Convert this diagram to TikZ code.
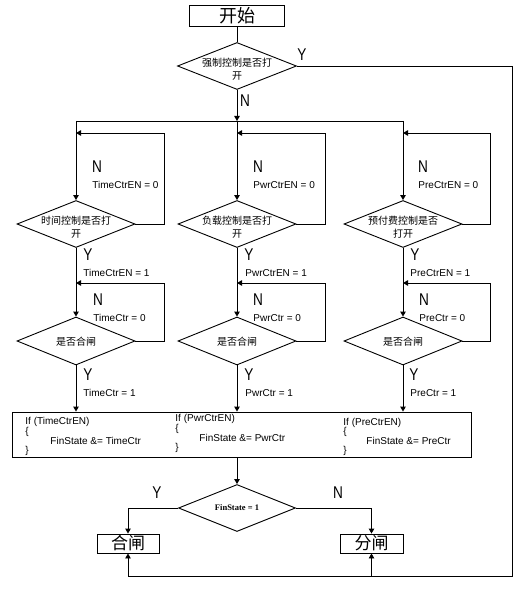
\documentclass[tikz,border=0pt]{standalone}
\usepackage{fontspec}
\setmainfont{Liberation Sans}
\newfontfamily\cjk{Noto Sans CJK SC}
\newfontfamily\serf{Liberation Serif}
\usetikzlibrary{shapes.geometric,arrows.meta}
\begin{document}
\begin{tikzpicture}[x=1pt,y=-1pt,line width=0.9pt,
  dia/.style={draw,diamond,inner sep=0pt,minimum width=118pt,minimum height=47pt},
  box/.style={draw,rectangle,inner sep=0pt},
  arr/.style={-{Triangle[length=5pt,width=5.5pt]}},
  lab/.style={font=\fontsize{10}{10}\selectfont,anchor=west,inner sep=0pt},
  yn/.style={font=\fontsize{17}{17}\selectfont,inner sep=0pt,xscale=0.8},
  cn/.style={font=\cjk\fontsize{10}{12.5}\selectfont,align=center,inner sep=0pt},
  code/.style={font=\fontsize{10}{10}\selectfont,anchor=west,inner sep=0pt}]
\useasboundingbox (0,0) rectangle (521,591);
% start
\node[box,minimum width=95pt,minimum height=21pt,font=\cjk\fontsize{18}{18}\selectfont] (start) at (237,15.5) {开始};
\node[dia,minimum width=119pt] (d1) at (237,66) {};
\node[cn] (d1t) at (237,69) {强制控制是否打\\开};
\node[yn] (y0) at (302,55) {Y};
\node[yn] (n0) at (245,101) {N};
\draw (start.south) -- (d1.north);
% junction
\coordinate (j) at (237,121);
\coordinate (jl) at (76,121);
\coordinate (jr) at (403,121);
\draw[arr] (d1.south) -- (j);
\draw (jl) -- (jr);
% level A diamonds
\node[dia] (dA1) at (76,224) {};
\node[dia] (dA2) at (237,224) {};
\node[dia] (dA3) at (403,224) {};
\node[cn] at (76,227) {时间控制是否打\\开};
\node[cn] at (237,227) {负载控制是否打\\开};
\node[cn] at (403,227) {预付费控制是否\\打开};
\draw[arr] (jl) -- (dA1.north);
\draw[arr] (j) -- (dA2.north);
\draw[arr] (jr) -- (dA3.north);
% loops A
\coordinate (lA1) at (164,133); \coordinate (mA1) at (76,133);
\coordinate (lA2) at (325,133); \coordinate (mA2) at (237,133);
\coordinate (lA3) at (490,133); \coordinate (mA3) at (403,133);
\draw[arr] (dA1.east) -| (lA1) -- (mA1);
\draw[arr] (dA2.east) -| (lA2) -- (mA2);
\draw[arr] (dA3.east) -| (lA3) -- (mA3);
\node[yn] at (97,167) {N};
\node[yn] at (258,167) {N};
\node[yn] at (423,167) {N};
\node[lab] at (92,185) {TimeCtrEN = 0};
\node[lab] at (253,185) {PwrCtrEN = 0};
\node[lab] at (418,185) {PreCtrEN = 0};
% level B diamonds
\node[dia,minimum height=48pt] (dB1) at (76,341) {};
\node[dia,minimum height=48pt] (dB2) at (237,341) {};
\node[dia,minimum height=48pt] (dB3) at (403,341) {};
\node[cn] at (76,342) {是否合闸};
\node[cn] at (237,342) {是否合闸};
\node[cn] at (403,342) {是否合闸};
\draw[arr] (dA1.south) -- (dB1.north);
\draw[arr] (dA2.south) -- (dB2.north);
\draw[arr] (dA3.south) -- (dB3.north);
\node[yn] at (88,255) {Y};
\node[yn] at (249,255) {Y};
\node[yn] at (415,255) {Y};
\node[lab] at (83,273) {TimeCtrEN = 1};
\node[lab] at (245,273) {PwrCtrEN = 1};
\node[lab] at (410,273) {PreCtrEN = 1};
% loops B
\coordinate (lB1) at (164,283); \coordinate (mB1) at (76,283);
\coordinate (lB2) at (325,283); \coordinate (mB2) at (237,283);
\coordinate (lB3) at (490,283); \coordinate (mB3) at (403,283);
\draw[arr] (dB1.east) -| (lB1) -- (mB1);
\draw[arr] (dB2.east) -| (lB2) -- (mB2);
\draw[arr] (dB3.east) -| (lB3) -- (mB3);
\node[yn] at (98,300) {N};
\node[yn] at (258,300) {N};
\node[yn] at (424,300) {N};
\node[lab] at (93,318) {TimeCtr = 0};
\node[lab] at (253,318) {PwrCtr = 0};
\node[lab] at (419,318) {PreCtr = 0};
\node[yn] at (88,375) {Y};
\node[yn] at (249,375) {Y};
\node[yn] at (414,375) {Y};
\node[lab] at (83,393) {TimeCtr = 1};
\node[lab] at (245,393) {PwrCtr = 1};
\node[lab] at (410,393) {PreCtr = 1};
% code box
\node[box,minimum width=459pt,minimum height=45pt] (cb) at (241.5,434.5) {};
\draw[arr] (dB1.south) -- (dB1.south |- cb.north);
\draw[arr] (dB2.south) -- (dB2.south |- cb.north);
\draw[arr] (dB3.south) -- (dB3.south |- cb.north);
\node[code] at (25,422) {If (TimeCtrEN)};
\node[code] at (25,432) {\{};
\node[code] at (50,441) {FinState \&= TimeCtr};
\node[code] at (25,451) {\}};
\node[code] at (175,419) {If (PwrCtrEN)};
\node[code] at (175,429) {\{};
\node[code] at (199,438) {FinState \&= PwrCtr};
\node[code] at (175,448) {\}};
\node[code] at (343,423) {If (PreCtrEN)};
\node[code] at (343,432) {\{};
\node[code] at (366,441) {FinState \&= PreCtr};
\node[code] at (343,451) {\}};
% final decision
\node[dia,minimum width=117pt] (df) at (237,508) {};
\node[font=\serf\bfseries\fontsize{8.5}{9}\selectfont,inner sep=0pt] at (237,508) {FinState = 1};
\draw[arr] (cb.south -| df.north) -- (df.north);
\node[box,minimum width=62pt,minimum height=19pt,font=\cjk\fontsize{17}{17}\selectfont] (hz) at (128,543.5) {合闸};
\node[box,minimum width=63pt,minimum height=19pt,font=\cjk\fontsize{17}{17}\selectfont] (fz) at (371.5,543.5) {分闸};
\draw[arr] (df.west) -| (hz.north);
\draw[arr] (df.east) -| (fz.north);
\node[yn] at (157,493) {Y};
\node[yn] at (338,493) {N};
% bypass
\coordinate (rt) at (512,66);
\coordinate (rb) at (512,576);
\coordinate (hb) at (128,576);
\coordinate (fb) at (371.5,576);
\draw (d1.east) -- (rt) -- (rb) -- (hb);
\draw[arr] (hb) -- (hz.south);
\draw[arr] (fb) -- (fz.south);
\end{tikzpicture}
\end{document}
